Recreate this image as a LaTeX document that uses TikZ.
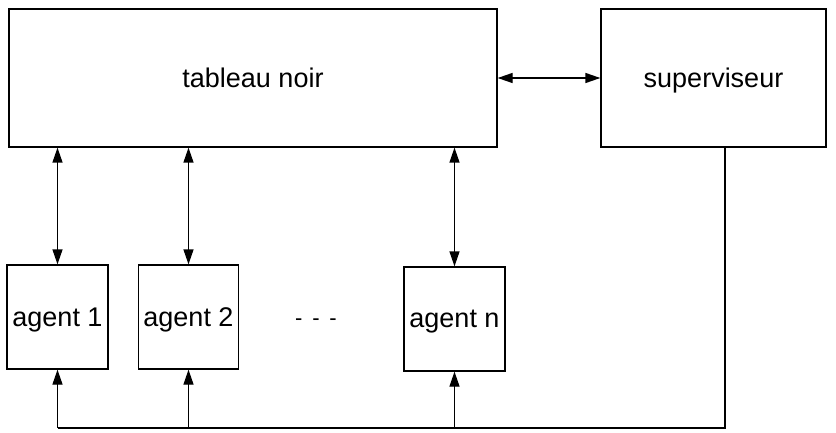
\documentclass[tikz,border=0pt]{standalone}
\usepackage{fontspec}
\setmainfont{Liberation Sans}
\usetikzlibrary{arrows.meta}
\begin{document}
\begin{tikzpicture}[x=1pt,y=-1pt,
  box/.style={draw, line width=1.3pt, inner sep=0pt, text depth=0pt, font=\fontsize{27}{31}\selectfont},
  conn/.style={line width=1.3pt},
  biarrow/.style={conn, {Triangle[length=15pt,width=10pt]}-{Triangle[length=15pt,width=10pt]}},
  uparrow/.style={conn, -{Triangle[length=15pt,width=10pt]}}]
\useasboundingbox (0,0) rectangle (836,433);
\node[box, minimum width=488pt, minimum height=138pt] (tb) at (253,78) {tableau noir};
\node[box, minimum width=225pt, minimum height=138pt] (sup) at (713.5,78) {superviseur};
\node[box, minimum width=101pt, minimum height=104pt] (a1) at (57.5,317) {agent 1};
\node[box, minimum width=100pt, minimum height=104pt] (a2) at (188.5,317) {agent 2};
\node[box, minimum width=101pt, minimum height=104pt] (an) at (454.5,319) {agent n};
\node[font=\fontsize{22}{26}\selectfont] (dots) at (316,322) {-\, -\, -};
\draw[biarrow] (tb.east) -- (sup.west);
\draw[biarrow] (a1.south |- tb.south) -- (a1.north);
\draw[biarrow] (a2.south |- tb.south) -- (a2.north);
\draw[biarrow] (an.south |- tb.south) -- (an.north);
\coordinate (sb) at (725,428);
\draw[conn] (sup.south -| sb) -- (sb) -- (sb -| a1.south);
\draw[uparrow] (sb -| a1.south) -- (a1.south);
\draw[uparrow] (sb -| a2.south) -- (a2.south);
\draw[uparrow] (sb -| an.south) -- (an.south);
\end{tikzpicture}
\end{document}
